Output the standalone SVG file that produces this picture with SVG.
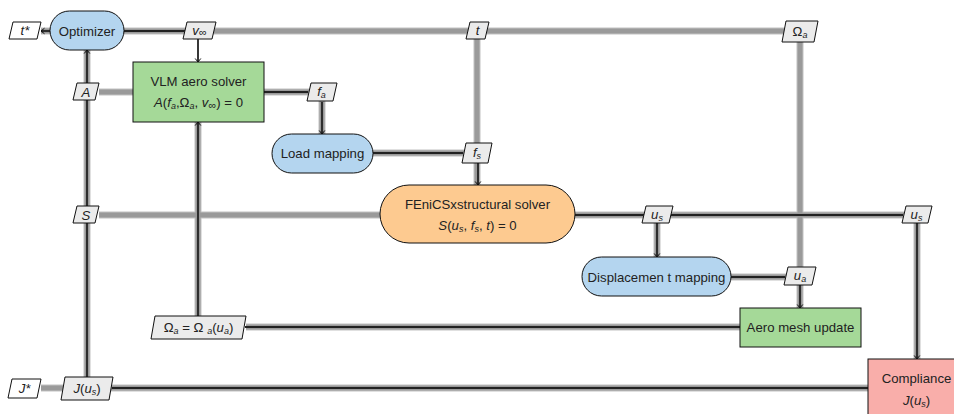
<svg xmlns="http://www.w3.org/2000/svg" width="954" height="414" viewBox="0 0 954 414">
  <style>
    .dg { fill: none; stroke: #c2c2c2; stroke-width: 7; }
    .di { fill: none; stroke: #9a9a9a; stroke-width: 5; }
    .pr { fill: none; stroke: #222; stroke-width: 1.8; }
    .ar { marker-end: url(#head); }
    .box { stroke: #111; stroke-width: 1; }
    .opt { fill: #b4d5ef; }
    .aero { fill: #a5d998; }
    .struct { fill: #fdca90; }
    .func { fill: #f9aeaa; }
    .data { fill: #ebebeb; stroke: #111; stroke-width: 1; }
    .out { fill: #ffffff; stroke: #111; stroke-width: 1; }
    text { font-family: "Liberation Sans", "DejaVu Sans", sans-serif; font-size: 13.2px; fill: #222; text-anchor: middle; }
    .m { font-style: italic; }
    .s { font-size: 9px; font-style: italic; }
    .inf { font-size: 11px; font-style: normal; }
    .up { font-style: normal; }
  </style>
  <defs>
    <marker id="head" markerUnits="userSpaceOnUse" markerWidth="10" markerHeight="10" refX="0" refY="0" viewBox="-5 -5 10 10" orient="auto" overflow="visible">
      <path d="M-3.5,-2.8 L0,0 L-3.5,2.8" fill="none" stroke="#111" stroke-width="1"/>
    </marker>
  </defs>

  <g id="connectors">
    <!-- data paths (gray) -->
    <g id="data-lines">
      <path class="dg" d="M41,31 H800 M87,31 V388 M99,92 H264 M264,92 H322 V134 M373,153 H477 M477,31 V185 M99,215 H380 M198,122 V327 M575,215 H917 V359 M657,215 V257 M800,31 V308 M731,277 H800 M246,327 H740 M41,388 H868"/>
      <path class="di" d="M41,31 H800 M87,31 V388 M99,92 H264 M264,92 H322 V134 M373,153 H477 M477,31 V185 M99,215 H380 M198,122 V327 M575,215 H917 V359 M657,215 V257 M800,31 V308 M731,277 H800 M246,327 H740 M41,388 H868"/>
    </g>
    <!-- process flow (black) -->
    <g id="process-lines">
      <path class="pr ar" d="M50,31 H41"/>
      <path class="pr" d="M124,31 H185"/>
      <path class="pr ar" d="M198,39 V62"/>
      <path class="pr" d="M264,92 H308"/>
      <path class="pr ar" d="M322,102 V134"/>
      <path class="pr" d="M373,153 H463"/>
      <path class="pr ar" d="M478,163 V185"/>
      <path class="pr" d="M575,215 H903"/>
      <path class="pr ar" d="M657,223 V257"/>
      <path class="pr" d="M731,277 H785"/>
      <path class="pr ar" d="M800,285 V308"/>
      <path class="pr ar" d="M917,223 V359"/>
      <path class="pr" d="M740,327 H245"/>
      <path class="pr ar" d="M198,316 V122"/>
      <path class="pr" d="M868,388 H112"/>
      <path class="pr ar" d="M87,377 V50"/>
    </g>
  </g>

  <!-- optimizer -->
  <g id="optimizer">
    <rect class="box opt" x="50" y="11" width="74" height="39" rx="19.5"/>
    <text x="87" y="35.5">Optimizer</text>
  </g>

  <!-- VLM aero solver -->
  <g id="vlm">
    <rect class="box aero" x="133" y="62" width="131" height="60"/>
    <text x="198.5" y="86">VLM aero solver</text>
    <text x="198.5" y="107"><tspan class="m">A</tspan>(<tspan class="m">f</tspan><tspan class="s" dy="2">a</tspan><tspan dy="-2">,Ω</tspan><tspan class="s" dy="2">a</tspan><tspan dy="-2">, </tspan><tspan class="m">v</tspan><tspan class="inf" dy="2">∞</tspan><tspan dy="-2">) = 0</tspan></text>
  </g>

  <!-- load mapping -->
  <g id="load-mapping">
    <rect class="box opt" x="272" y="134" width="101" height="39" rx="19.5"/>
    <text x="322.5" y="158">Load mapping</text>
  </g>

  <!-- structural solver -->
  <g id="structural">
    <rect class="box struct" x="380" y="185" width="195" height="58" rx="29"/>
    <text x="477.5" y="209">FEniCSxstructural solver</text>
    <text x="477.5" y="230"><tspan class="m">S</tspan>(<tspan class="m">u</tspan><tspan class="s" dy="2">s</tspan><tspan dy="-2">, </tspan><tspan class="m">f</tspan><tspan class="s" dy="2">s</tspan><tspan dy="-2">, </tspan><tspan class="m">t</tspan>) = 0</text>
  </g>

  <!-- displacement mapping -->
  <g id="disp-mapping">
    <rect class="box opt" x="582" y="257" width="149" height="39" rx="19.5"/>
    <text x="656.5" y="281.5">Displacemen t mapping</text>
  </g>

  <!-- aero mesh update -->
  <g id="mesh-update">
    <rect class="box aero" x="740" y="308" width="121" height="39"/>
    <text x="800.5" y="332">Aero mesh update</text>
  </g>

  <!-- compliance -->
  <g id="compliance">
    <rect class="box func" x="868" y="359" width="98" height="64"/>
    <text x="916.5" y="383">Compliance</text>
    <text x="916.5" y="405"><tspan class="m">J</tspan>(<tspan class="m">u</tspan><tspan class="s" dy="2">s</tspan><tspan dy="-2">)</tspan></text>
  </g>

  <!-- data blocks -->
  <g id="t-star">
    <path class="out" d="M13,22 H41 L37,39 H9 Z"/>
    <text x="25" y="35" class="m">t*</text>
  </g>
  <g id="v-inf">
    <path class="data" d="M187,22 H216 L212,39 H183 Z"/>
    <text x="199.5" y="35"><tspan class="m">v</tspan><tspan class="inf" dy="1">∞</tspan></text>
  </g>
  <g id="t-data">
    <path class="data" d="M470,22 H489 L485,39 H466 Z"/>
    <text x="477.5" y="35" class="m">t</text>
  </g>
  <g id="omega-data">
    <path class="data" d="M786,21 H818 L814,42 H782 Z"/>
    <text x="800" y="36"><tspan class="up">Ω</tspan><tspan class="s" dy="2">a</tspan></text>
  </g>
  <g id="a-data">
    <path class="data" d="M77,83 H99 L95,100 H73 Z"/>
    <text x="86" y="96.5" class="m">A</text>
  </g>
  <g id="fa-data">
    <path class="data" d="M311,83 H337 L333,101 H307 Z"/>
    <text x="321.5" y="96"><tspan class="m">f</tspan><tspan class="s" dy="2">a</tspan></text>
  </g>
  <g id="fs-data">
    <path class="data" d="M466,143 H492 L488,163 H462 Z"/>
    <text x="477" y="157"><tspan class="m">f</tspan><tspan class="s" dy="2">s</tspan></text>
  </g>
  <g id="s-data">
    <path class="data" d="M77,206 H99 L95,223 H73 Z"/>
    <text x="86" y="219.5" class="m">S</text>
  </g>
  <g id="us-data-1">
    <path class="data" d="M646,206 H673 L669,223 H642 Z"/>
    <text x="657" y="218.5"><tspan class="m">u</tspan><tspan class="s" dy="2">s</tspan></text>
  </g>
  <g id="us-data-2">
    <path class="data" d="M906,206 H932 L928,223 H902 Z"/>
    <text x="916.5" y="218.5"><tspan class="m">u</tspan><tspan class="s" dy="2">s</tspan></text>
  </g>
  <g id="ua-data">
    <path class="data" d="M788,267 H816 L812,285 H784 Z"/>
    <text x="800" y="280"><tspan class="m">u</tspan><tspan class="s" dy="2">a</tspan></text>
  </g>
  <g id="omega-update-data">
    <path class="data" d="M155,316 H246 L242,339 H151 Z"/>
    <text x="198.5" y="331.5"><tspan class="up">Ω</tspan><tspan class="s" dy="2">a</tspan><tspan dy="-2"> = Ω </tspan><tspan class="s" dy="2">a</tspan><tspan dy="-2">(</tspan><tspan class="m">u</tspan><tspan class="s" dy="2">a</tspan><tspan dy="-2">)</tspan></text>
  </g>
  <g id="j-data">
    <path class="data" d="M65,377 H113 L109,400 H61 Z"/>
    <text x="87" y="392.5"><tspan class="m">J</tspan>(<tspan class="m">u</tspan><tspan class="s" dy="2">s</tspan><tspan dy="-2">)</tspan></text>
  </g>
  <g id="j-star">
    <path class="out" d="M12,379 H41 L37,398 H8 Z"/>
    <text x="24.5" y="392.5" class="m">J*</text>
  </g>
</svg>
